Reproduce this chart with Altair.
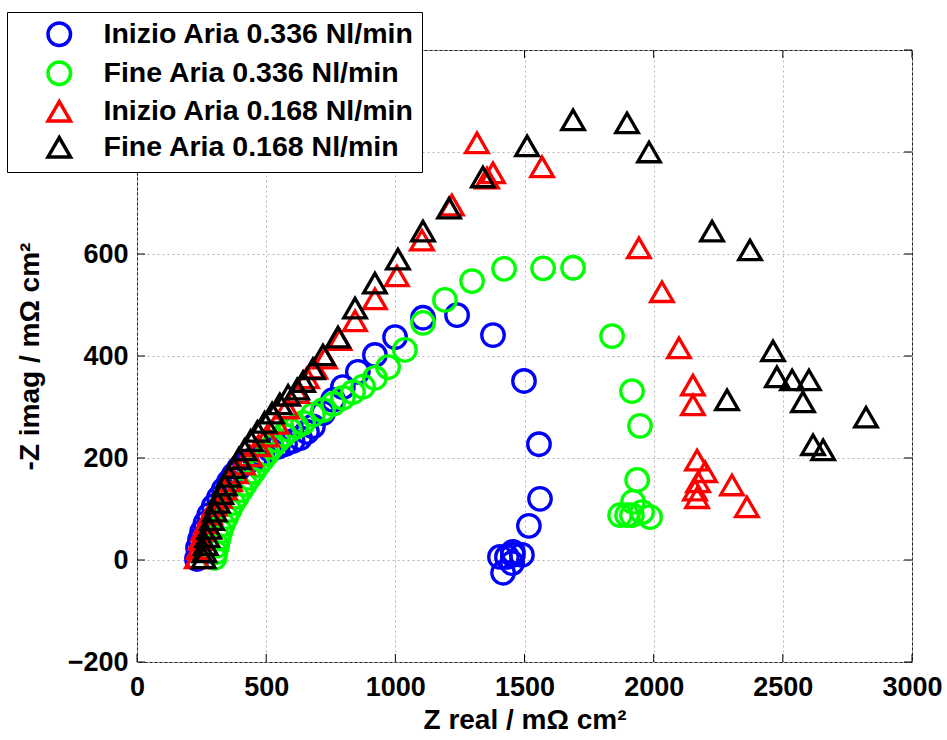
import altair as alt
import pandas as pd

series_names = ["Inizio Aria 0.336 Nl/min", "Fine Aria 0.336 Nl/min",
                "Inizio Aria 0.168 Nl/min", "Fine Aria 0.168 Nl/min"]
series_colors = ["#0000ff", "#00ff00", "#ff0000", "#000000"]
series_shapes = ["circle", "circle", "triangle-up", "triangle-up"]
series_sizes = [506, 506, 580, 580]

blue_x = [232, 236, 244, 252, 265, 279, 297, 317, 336, 356, 375, 395, 425, 457, 486, 515, 545, 573,
          602, 631, 658, 681, 720, 759, 797, 855, 921, 999, 1107, 1239, 1378, 1498, 1556, 1560, 1517,
          1490, 1455, 1455, 1452, 1432, 1405, 1417]
blue_y = [2, 24, 40, 55, 72, 88, 105, 122, 138, 153, 167, 180, 191, 200, 208, 216, 222, 227,
          233, 239, 251, 262, 288, 314, 339, 369, 402, 437, 475, 480, 441, 351, 227, 120, 67,
          10, 10, 16, -6, 6, 6, -25]

green_x = [300, 304, 310, 316, 323, 333, 345, 358, 372, 387, 403, 418, 434, 451, 468, 485, 503, 523,
           545, 568, 592, 617, 643, 681, 720, 759, 797, 836, 875, 921, 972, 1037, 1107, 1192, 1297,
           1421, 1572, 1688, 1839, 1916, 1947, 1936, 1920, 1870, 1897, 1916, 1955, 1986]
green_y = [4, 15, 28, 42, 56, 70, 84, 98, 112, 124, 137, 149, 161, 173, 186, 197, 208, 222,
           234, 245, 255, 262, 269, 285, 294, 306, 318, 329, 340, 357, 378, 412, 465, 510, 547,
           571, 572, 573, 439, 331, 263, 157, 114, 88, 88, 88, 94, 84]

red_x = [232, 238, 246, 256, 268, 283, 300, 320, 340, 360, 383, 410, 437, 470, 503, 540, 580, 620,
         658, 690, 728, 784, 844, 921, 1006, 1103, 1219, 1355, 1378, 1316, 1568, 1943, 2032, 2098,
         2152, 2152, 2168, 2199, 2172, 2160, 2168, 2303, 2361]
red_y = [4, 22, 40, 58, 73, 90, 107, 123, 139, 155, 171, 188, 204, 224, 243, 268, 298, 328,
         357, 376, 396, 432, 469, 512, 557, 627, 696, 749, 759, 818, 771, 612, 526, 416,
         343, 304, 196, 173, 153, 137, 122, 147, 104]

black_x = [258, 261, 266, 272, 280, 290, 301, 313, 326, 340, 356, 374, 394, 416, 440, 466, 494, 523,
           553, 585, 620, 643, 681, 720, 778, 844, 921, 1010, 1107, 1208, 1339, 1510, 1688, 1897,
           1982, 2226, 2373, 2462, 2477, 2536, 2601, 2578, 2617, 2656, 2822, 2284]
black_y = [4, 16, 30, 46, 62, 79, 96, 113, 130, 147, 164, 181, 199, 216, 234, 252, 270, 288,
           306, 323, 335, 350, 375, 402, 437, 494, 543, 590, 645, 690, 751, 812, 863, 857,
           800, 645, 608, 410, 359, 353, 353, 310, 226, 216, 280, 314]

x_ticks = [0, 500, 1000, 1500, 2000, 2500, 3000]
y_ticks = [-200, 0, 200, 400, 600, 800, 1000]

rows = []
for name, xs, ys in zip(series_names, [blue_x, green_x, red_x, black_x],
                        [blue_y, green_y, red_y, black_y]):
    for xv, yv in zip(xs, ys):
        rows.append({"serie": name, "zr": xv, "zi": yv})
df = pd.DataFrame(rows)

W, H = 775, 612
FONT = "Liberation Sans"
xscale = alt.Scale(domain=[0, 3000], nice=False, zero=False)
yscale = alt.Scale(domain=[-200, 1000], nice=False, zero=False)

legend = alt.Legend(
    title=None, orient="none", legendX=-130, legendY=-38,
    fillColor="white", strokeColor="black", padding=8,
    labelFont=FONT, labelFontSize=28.5, labelFontWeight="bold", labelColor="black",
    labelLimit=500, symbolStrokeWidth=3.5, symbolSize=620, symbolOffset=30,
    labelOffset=30, rowPadding=2, zindex=1,
)

common_axis = dict(grid=True, gridDash=[2, 3], gridColor="#b4b4b4", domain=False, ticks=False,
                   labelFlush=False, format="d",
                   labelFont=FONT, labelFontSize=27, labelFontWeight="bold", labelColor="black",
                   titleFont=FONT, titleFontSize=28, titleFontWeight="bold", titleColor="black")
xaxis = alt.Axis(values=x_ticks, title="Z real / mΩ cm²", labelPadding=12,
                 titleX=W / 2, titleY=58, titleBaseline="middle", titleAlign="center",
                 **common_axis)
# labels 800 and 1000 sit under the legend box in the reference, so they are not shown
yaxis = alt.Axis(values=y_ticks, title="-Z imag / mΩ cm²", labelPadding=9,
                 labelExpr="datum.value >= 800 ? '' : datum.label",
                 titleX=-107, titleY=H / 2, titleAngle=-90, titleBaseline="middle",
                 titleAlign="center", **common_axis)

points = alt.Chart(df).mark_point(filled=False, strokeWidth=3.3, opacity=1).encode(
    x=alt.X("zr:Q", scale=xscale, axis=xaxis, title="Z real / mΩ cm²"),
    y=alt.Y("zi:Q", scale=yscale, axis=yaxis, title="-Z imag / mΩ cm²"),
    color=alt.Color("serie:N", scale=alt.Scale(domain=series_names, range=series_colors),
                    legend=legend),
    shape=alt.Shape("serie:N", scale=alt.Scale(domain=series_names, range=series_shapes),
                    legend=legend),
    size=alt.Size("serie:N", scale=alt.Scale(domain=series_names, range=series_sizes),
                  legend=None),
)

xt = pd.DataFrame({"v": x_ticks})
yt = pd.DataFrame({"v": y_ticks})
tick_style = dict(color="black", strokeWidth=1)
bottom_ticks = alt.Chart(xt).mark_rule(**tick_style).encode(
    x=alt.X("v:Q", scale=xscale, axis=xaxis, title="Z real / mΩ cm²"),
    y=alt.value(H), y2=alt.value(H - 8))
top_ticks = alt.Chart(xt).mark_rule(**tick_style).encode(
    x=alt.X("v:Q", scale=xscale, axis=xaxis, title="Z real / mΩ cm²"),
    y=alt.value(0), y2=alt.value(8))
left_ticks = alt.Chart(yt).mark_rule(**tick_style).encode(
    y=alt.Y("v:Q", scale=yscale, axis=yaxis, title="-Z imag / mΩ cm²"),
    x=alt.value(0), x2=alt.value(8))
right_ticks = alt.Chart(yt).mark_rule(**tick_style).encode(
    y=alt.Y("v:Q", scale=yscale, axis=yaxis, title="-Z imag / mΩ cm²"),
    x=alt.value(W), x2=alt.value(W - 8))

chart = alt.layer(points, bottom_ticks, top_ticks, left_ticks, right_ticks).properties(
    width=W, height=H,
    autosize=alt.AutoSizeParams(type="none"),
    padding={"left": 137, "top": 50, "right": 35, "bottom": 78},
    background="white",
).configure_view(stroke="#222222", strokeWidth=1)

chart.save("out.html", embed_options={"renderer": "svg", "actions": False})
